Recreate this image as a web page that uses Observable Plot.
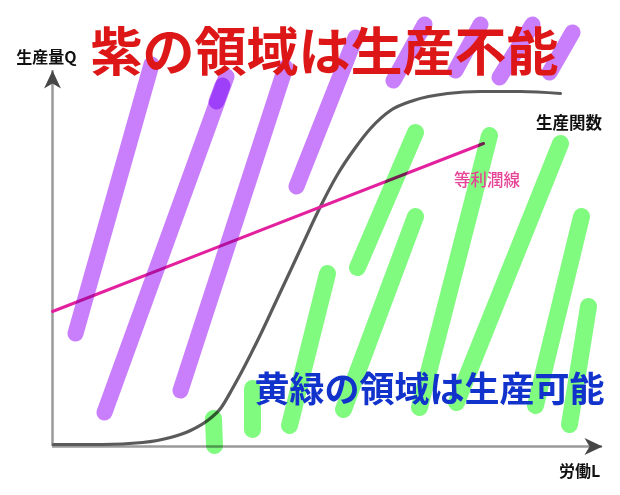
<!DOCTYPE html>
<html>
<head>
<meta charset="utf-8">
<script src="https://cdn.jsdelivr.net/npm/d3@7"></script>
<script src="https://cdn.jsdelivr.net/npm/@observablehq/plot@0.6"></script>
<style>
  html, body { margin: 0; padding: 0; background: #fff; }
</style>
</head>
<body>
<div id="chart"></div>
<script>
// Axis extents: labour L (horizontal) and output Q (vertical)
const laborDomain = [0, 110];
const outputDomain = [0, 94];

// S-shaped production function Q = f(L)
const productionL = [0.2, 10, 18, 23.6, 27.6, 31, 33.6, 36, 38.6, 41.6, 44.6, 47.6, 50.2, 53.2, 57, 60.6, 63.6, 67.6, 72.2, 79, 85.6, 93.6, 101.6];
const productionQ = [0.5, 0.5, 1, 2.25, 4, 6.5, 9.5, 14.5, 20.5, 28, 36, 44, 51, 59, 68, 74.75, 79.5, 84, 86.5, 88.25, 88.75, 88.75, 88.25];

// Iso-profit line
const isoProfitL = [0, 86.2];
const isoProfitQ = [33.75, 75.75];

// Purple hatching: infeasible region (above the production function)
const purpleFromL = [19.8, 34.8, 34, 46.6, 60.6, 74.4, 85.6, 96, 104];
const purpleFromQ = [95.5, 92.5, 90.25, 94.75, 102.25, 105.5, 105.5, 105.5, 103.5];
const purpleToL = [4.6, 10.4, 32.8, 25.6, 48.8, 68.2, 80.6, 89.4, 99.4];
const purpleToQ = [28.25, 8.5, 86.25, 14, 65, 91.5, 94, 92.25, 93.5];

// Yellow-green hatching: feasible region (below the production function)
const greenFromL = [72.6, 87.4, 101.6, 72.6, 105.8, 55, 107.2, 32.2, 40];
const greenFromQ = [78.5, 77.75, 75.75, 57.5, 57.5, 43.25, 35, 7, 14.5];
const greenToL = [61, 73.4, 80.8, 58.2, 96.6, 47.4, 103.4, 32.4, 40];
const greenToQ = [44.75, 9.75, 11, 9.25, 10.25, 5.25, 5.5, 0.25, 4.25];

// Text
const titleInfeasible = "紫の領域は生産不能";
const titleFeasible = "黄緑の領域は生産可能";
const outputLabel = "生産量Q";
const laborLabel = "労働L";
const productionLabel = "生産関数";
const isoProfitLabel = "等利潤線";

const production = productionL.map((L, i) => ({L, Q: productionQ[i]}));
const isoProfit = isoProfitL.map((L, i) => ({L, Q: isoProfitQ[i]}));
const segments = (fromL, fromQ, toL, toQ) =>
  fromL.map((L, i) => ({L1: L, Q1: fromQ[i], L2: toL[i], Q2: toQ[i]}));
const purple = segments(purpleFromL, purpleFromQ, purpleToL, purpleToQ);
const green = segments(greenFromL, greenFromQ, greenToL, greenToQ);

// Notched arrowhead, tip at the anchor point, pointing up before rotation
const arrowHead = {
  draw(context, size) {
    const r = Math.sqrt(size / Math.PI);
    const w = r * 0.47;
    context.moveTo(0, 0);
    context.lineTo(w, r);
    context.lineTo(0, r * 0.72);
    context.lineTo(-w, r);
    context.closePath();
  }
};
const axisTips = [
  {L: laborDomain[0], Q: outputDomain[1], angle: 0},
  {L: laborDomain[1], Q: outputDomain[0], angle: 90}
];

const font = "'Noto Sans CJK JP', 'Noto Sans', sans-serif";

const chart = Plot.plot({
  width: 620,
  height: 495,
  margin: 0,
  x: {domain: laborDomain, range: [52, 602], axis: null},
  y: {domain: outputDomain, range: [446, 70], axis: null},
  style: {background: "#fff", fontFamily: font},
  marks: [
    // axes
    Plot.ruleX([laborDomain[0]], {y1: outputDomain[0], y2: outputDomain[1], stroke: "#9a9a9a", strokeWidth: 2.5}),
    Plot.ruleY([outputDomain[0]], {x1: laborDomain[0], x2: laborDomain[1], stroke: "#9a9a9a", strokeWidth: 2.5}),
    Plot.dot(axisTips, {x: "L", y: "Q", symbol: arrowHead, r: 18, rotate: "angle", fill: "#474747", stroke: "none"}),
    // production function
    Plot.line(production, {x: "L", y: "Q", curve: "monotone-x", stroke: "#5a5a5a", strokeWidth: 3.2}),
    // iso-profit line
    Plot.line(isoProfit, {x: "L", y: "Q", stroke: "#e3219f", strokeWidth: 3}),
    // hatching
    Plot.link(purple, {x1: "L1", y1: "Q1", x2: "L2", y2: "Q2", stroke: "#c97ffc", strokeWidth: 16, strokeLinecap: "round", mixBlendMode: "multiply"}),
    Plot.link(green, {x1: "L1", y1: "Q1", x2: "L2", y2: "Q2", stroke: "#80fb80", strokeWidth: 17, strokeLinecap: "round", mixBlendMode: "multiply"}),
    // labels
    Plot.text([outputLabel], {x: laborDomain[0], y: 97.25, dx: -6, text: d => d, fontSize: 16, fontWeight: "bold", fill: "#111", textAnchor: "middle"}),
    Plot.text([laborLabel], {x: 105.4, y: -6.25, text: d => d, fontSize: 16, fontWeight: "bold", fill: "#111", textAnchor: "middle"}),
    Plot.text([productionLabel], {x: 103.3, y: 80.75, text: d => d, fontSize: 16.5, fontWeight: "bold", fill: "#111", textAnchor: "middle"}),
    Plot.text([isoProfitLabel], {x: 86.9, y: 66.5, text: d => d, fontSize: 16.5, fontWeight: 500, fill: "#e64597", textAnchor: "middle"}),
    // headline statements
    Plot.text([titleInfeasible], {frameAnchor: "top-left", dx: 90, dy: 54, text: d => d, fontSize: 52, fontWeight: "bold", fill: "#dd1717", textAnchor: "start", lineAnchor: "middle"}),
    Plot.text([titleFeasible], {frameAnchor: "top-left", dx: 254, dy: 390, text: d => d, fontSize: 35, fontWeight: "bold", fill: "#1232cc", textAnchor: "start", lineAnchor: "middle"})
  ]
});

document.getElementById("chart").append(chart);
</script>
</body>
</html>
